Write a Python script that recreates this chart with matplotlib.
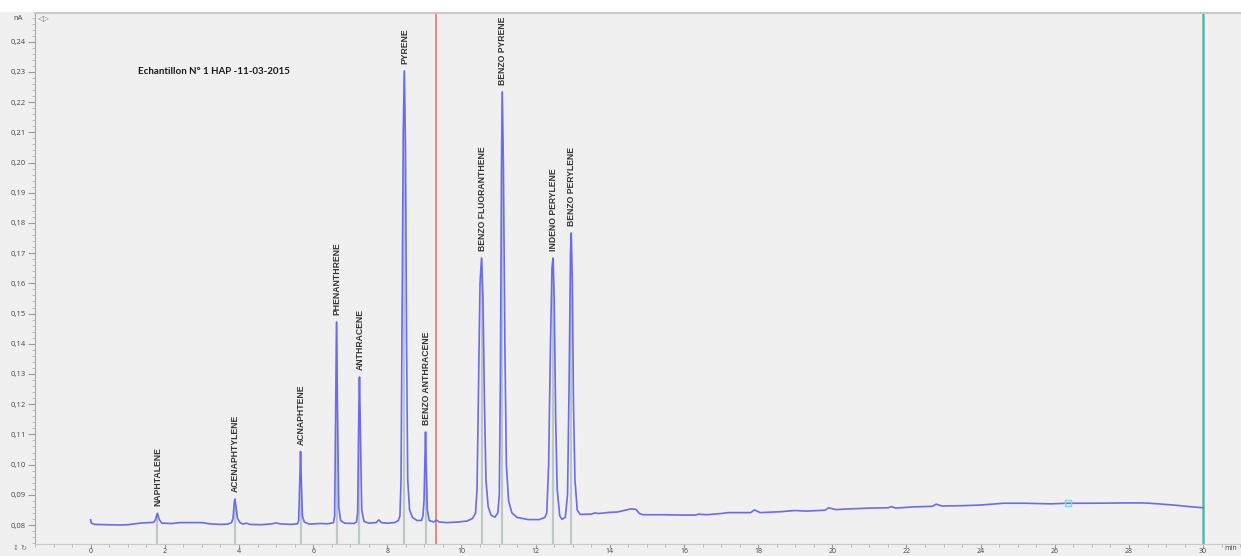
import matplotlib
matplotlib.use("Agg")
import matplotlib.pyplot as plt
from matplotlib.patches import Rectangle
import numpy as np

# ---------------- data ----------------
title = "Echantillon N° 1 HAP -11-03-2015"

time_min = [
    0.0, 0.02, 0.1, 0.5, 0.8, 1.0, 1.2, 1.4, 1.6,
    1.70, 1.75, 1.80, 1.85, 1.92,
    2.2, 2.4, 3.0, 3.2, 3.5, 3.7, 3.8,
    3.84, 3.87, 3.89, 3.92, 3.96, 4.03, 4.1, 4.2, 4.3, 4.6, 4.9, 5.0, 5.1, 5.4, 5.58,
    5.61, 5.64, 5.66, 5.68, 5.71, 5.76, 5.9, 6.2, 6.4, 6.55,
    6.58, 6.61, 6.63, 6.655, 6.69, 6.74, 6.85, 7.1, 7.17,
    7.20, 7.23, 7.25, 7.275, 7.31, 7.37, 7.5, 7.7, 7.77, 7.84, 8.0, 8.2, 8.3,
    8.34, 8.37, 8.40, 8.43, 8.46, 8.49, 8.52, 8.55, 8.60, 8.68, 8.80, 8.92, 8.96,
    8.99, 9.01, 9.03, 9.05, 9.08, 9.13, 9.25, 9.33, 9.40, 9.6, 9.9, 10.15, 10.3,
    10.38, 10.42, 10.46, 10.50, 10.54, 10.58, 10.62, 10.66, 10.72, 10.80, 10.90, 10.98,
    11.02, 11.05, 11.08, 11.10, 11.13, 11.17, 11.21, 11.27, 11.36, 11.5, 11.8, 12.1, 12.25,
    12.30, 12.35, 12.40, 12.44, 12.47, 12.50, 12.54, 12.58, 12.65, 12.71, 12.80, 12.86,
    12.90, 12.94, 12.96, 12.99, 13.02, 13.06, 13.12, 13.2, 13.5, 13.6, 13.7, 14.0, 14.2,
    14.35, 14.55, 14.7, 14.8, 14.9, 15.4, 16.0, 16.3, 16.4, 16.6, 17.0, 17.2, 17.8,
    17.9, 18.05, 18.6, 19.0, 19.3, 19.8, 19.9, 20.1, 20.4, 21.0, 21.5, 21.6, 21.7,
    22.2, 22.7, 22.8, 22.95, 23.5, 24.0, 24.6, 25.2, 25.9, 26.3, 27.0, 27.8, 28.4,
    28.8, 29.3, 29.7, 30.0,
]
signal_nA = [
    0.0817, 0.0806, 0.0802, 0.0801, 0.0800, 0.0801, 0.0804, 0.0807, 0.0808,
    0.0809, 0.0818, 0.0839, 0.0818, 0.0806,
    0.0805, 0.0808, 0.0808, 0.0804, 0.0802, 0.0803, 0.0808,
    0.0822, 0.0870, 0.0886, 0.0860, 0.0822, 0.0808, 0.0803, 0.0806, 0.0802, 0.0801, 0.0804, 0.0807, 0.0804, 0.0802, 0.0804,
    0.0815, 0.0950, 0.1043, 0.0950, 0.0830, 0.0810, 0.0803, 0.0805, 0.0804, 0.0808,
    0.0830, 0.1200, 0.1472, 0.1200, 0.0860, 0.0815, 0.0806, 0.0805, 0.0810,
    0.0840, 0.1150, 0.1290, 0.1100, 0.0850, 0.0812, 0.0806, 0.0808, 0.0817, 0.0808, 0.0806, 0.0808, 0.0815,
    0.0830, 0.0950, 0.1500, 0.2100, 0.2303, 0.2050, 0.1400, 0.0950, 0.0850, 0.0825, 0.0815, 0.0815, 0.0830,
    0.0880, 0.1000, 0.1108, 0.0990, 0.0850, 0.0815, 0.0810, 0.0816, 0.0810, 0.0808, 0.0810, 0.0813, 0.0822,
    0.0840, 0.0920, 0.1250, 0.1600, 0.1684, 0.1550, 0.1200, 0.0950, 0.0860, 0.0832, 0.0826, 0.0840,
    0.0900, 0.1300, 0.2000, 0.2234, 0.2000, 0.1400, 0.1000, 0.0880, 0.0840, 0.0825, 0.0818, 0.0818, 0.0825,
    0.0840, 0.1000, 0.1400, 0.1650, 0.1684, 0.1550, 0.1150, 0.0920, 0.0830, 0.0819, 0.0825, 0.0900,
    0.1250, 0.1700, 0.1767, 0.1600, 0.1200, 0.0950, 0.0850, 0.0835, 0.0836, 0.0840, 0.0838, 0.0842, 0.0843,
    0.0847, 0.0853, 0.0852, 0.0838, 0.0834, 0.0834, 0.0833, 0.0833, 0.0836, 0.0834, 0.0838, 0.0841, 0.0841,
    0.0850, 0.0841, 0.0844, 0.0848, 0.0846, 0.0849, 0.0857, 0.0851, 0.0853, 0.0856, 0.0857, 0.0861, 0.0856,
    0.0860, 0.0862, 0.0869, 0.0863, 0.0864, 0.0866, 0.0872, 0.0872, 0.0870, 0.0872, 0.0872, 0.0873, 0.0873,
    0.0870, 0.0865, 0.0860, 0.0857,
]

peak_names = ["NAPHTALENE", "ACENAPHTYLENE", "ACNAPHTENE", "PHENANTHRENE", "ANTHRACENE",
              "PYRENE", "BENZO ANTHRACENE", "BENZO FLUORANTHENE", "BENZO PYRENE",
              "INDENO PERYLENE", "BENZO PERYLENE"]
peak_times = [1.80, 3.89, 5.66, 6.63, 7.25, 8.46, 9.03, 10.54, 11.10, 12.47, 12.96]
peak_heights = [0.0839, 0.0886, 0.1043, 0.1472, 0.1290, 0.2303, 0.1108, 0.1684, 0.2234, 0.1684, 0.1767]

red_marker_time = 9.32
end_marker_time = 30.0
cursor_point = (26.36, 0.0873)

x_ticks = list(range(0, 31, 2))
x_tick_labels = [str(v) for v in x_ticks]
y_ticks = [0.08, 0.09, 0.10, 0.11, 0.12, 0.13, 0.14, 0.15, 0.16, 0.17, 0.18, 0.19,
           0.20, 0.21, 0.22, 0.23, 0.24]
y_tick_labels = ["0,08", "0,09", "0,10", "0,11", "0,12", "0,13", "0,14", "0,15", "0,16",
                 "0,17", "0,18", "0,19", "0,20", "0,21", "0,22", "0,23", "0,24"]

# ---------------- figure ----------------
W, H = 1241, 556
fig = plt.figure(figsize=(W / 100, H / 100), dpi=100)
fig.patch.set_facecolor("#f0f0f0")
fig.patches.append(Rectangle((0, 1 - 12 / H), 1, 12 / H, transform=fig.transFigure,
                             facecolor="white", edgecolor="none", zorder=0))

left_px, right_px, top_px, bottom_px = 35, 1241, 13, 544
ax = fig.add_axes([left_px / W, 1 - bottom_px / H, (right_px - left_px) / W,
                   (bottom_px - top_px) / H])
ax.set_facecolor("#f0f0f0")

ax.set_xlim(-1.482, 31.02)
ax.set_ylim(0.07371, 0.2495)

# peak marker lines
for t, h in zip(peak_times, peak_heights):
    ax.plot([t, t], [0.07371, h], color="#bcc8c4", lw=1.6, zorder=1, solid_capstyle="butt")

# cursor lines
ax.axvline(red_marker_time, color="#f07a7a", lw=1.3, zorder=2)
ax.axvline(end_marker_time, color="#5ab5ad", lw=1.8, zorder=2)

# trace
ax.plot(time_min, signal_nA, color="#6a6af2", lw=1.2, zorder=3, solid_joinstyle="round")

ax.plot([cursor_point[0]], [cursor_point[1]], marker="s", ms=5, mfc="none",
        mec="#70dcec", mew=1.0, zorder=4)

# peak labels
lab_font = ["Liberation Sans Narrow", "Liberation Sans", "DejaVu Sans"]
for name, t, h in zip(peak_names, peak_times, peak_heights):
    ax.annotate(name, xy=(t, h), xytext=(0.5, 5), textcoords="offset points",
                rotation=90, ha="center", va="bottom", fontsize=6.2,
                family=lab_font, fontweight="bold", color="#333333", zorder=5)

fig.text(138 / W, 1 - 71 / H, title, ha="left", va="center", fontsize=7,
         family=["Lato", "DejaVu Sans"], fontweight="bold", color="#1a1a1a")

# ticks
ax.set_xticks(x_ticks)
ax.set_xticklabels(x_tick_labels)
ax.set_xticks(np.arange(-1.5, 31.01, 0.5), minor=True)
ax.set_yticks(y_ticks)
ax.set_yticklabels(y_tick_labels)
ax.set_yticks(np.arange(0.074, 0.2496, 0.002), minor=True)

ax.tick_params(axis="y", which="major", labelsize=5.5, colors="#9a9a9a",
               labelcolor="#444444", length=5, width=0.8, pad=1.5)
ax.tick_params(axis="x", which="major", labelsize=5, colors="#9a9a9a",
               labelcolor="#444444", length=3, width=0.8, pad=0.2)
ax.tick_params(axis="both", which="minor", colors="#b0b0b0", length=2.5, width=0.6)
for lab in ax.get_xticklabels() + ax.get_yticklabels():
    lab.set_family(["Open Sans", "DejaVu Sans"])

ax.spines["right"].set_visible(False)
ax.spines["left"].set_color("#a8a8a8")
ax.spines["bottom"].set_color("#c8c8c8")
ax.spines["top"].set_color("#c8c8c8")
ax.spines["top"].set_linewidth(1.5)

# misc interface text
fig.text(18 / W, 1 - 19 / H, "nA", fontsize=5.5, ha="center", va="center",
         color="#444444", family=["Open Sans", "DejaVu Sans"])
fig.text(44 / W, 1 - 19 / H, "◁▷", fontsize=5.5, ha="center", va="center",
         color="#777777", family="DejaVu Sans")
fig.text(20 / W, 1 - 548 / H, "↕ ↻", fontsize=5, ha="center", va="center",
         color="#777777", family="DejaVu Sans")
fig.text(1224 / W, 1 - 549 / H, "min", fontsize=5, ha="left", va="center",
         color="#444444", family=["Open Sans", "DejaVu Sans"])

fig.savefig("out.png", dpi=100, facecolor=fig.get_facecolor())
